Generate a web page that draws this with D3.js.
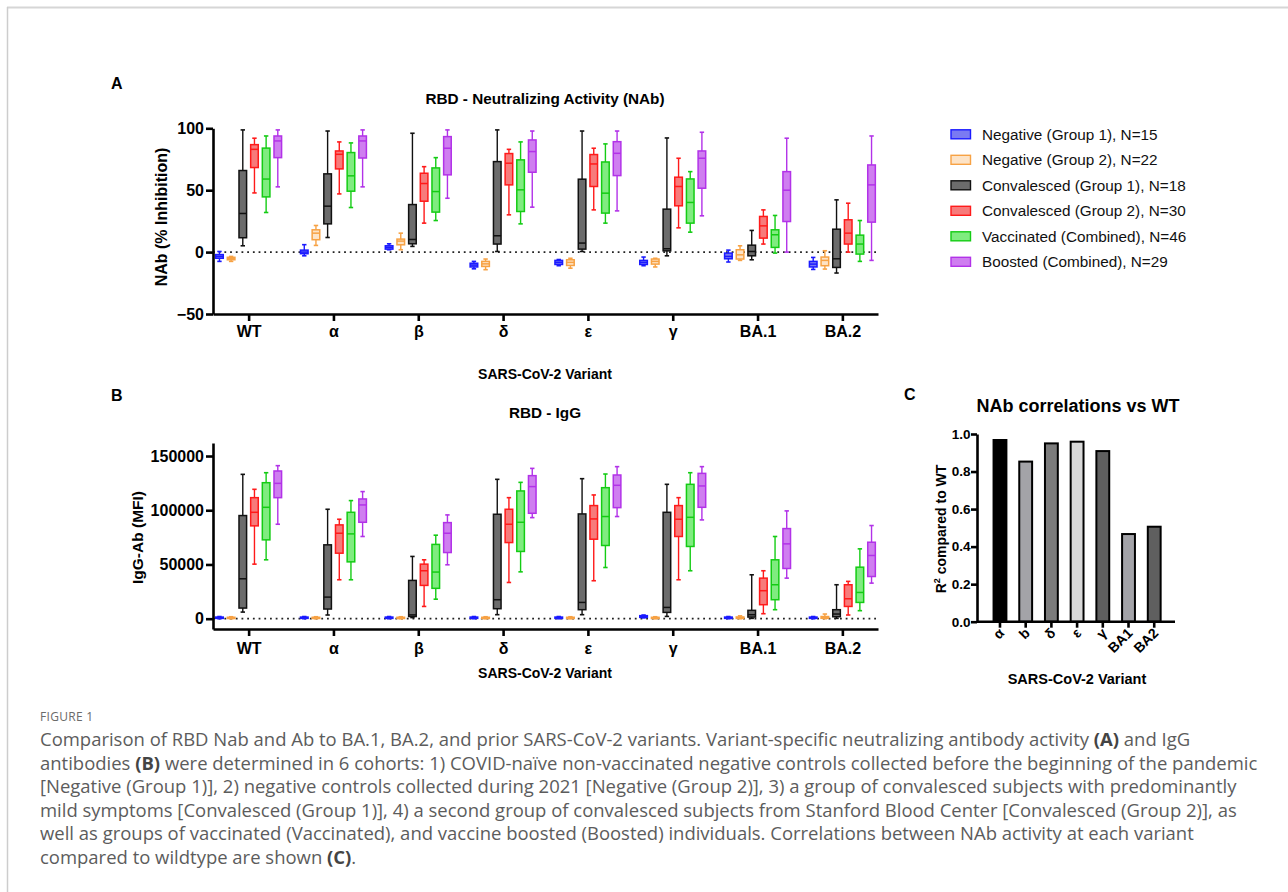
<!DOCTYPE html>
<html><head><meta charset="utf-8">
<script src="https://cdn.jsdelivr.net/npm/d3@7"></script>
<style>body{margin:0;background:#fff}svg{display:block}</style>
</head><body>
<svg id="fig" width="1288" height="892"></svg>
<script>
// ---------- DATA ----------
const variants = ["WT","α","β","δ","ε","γ","BA.1","BA.2"];
const seriesNames = ["Negative (Group 1), N=15","Negative (Group 2), N=22","Convalesced (Group 1), N=18",
  "Convalesced (Group 2), N=30","Vaccinated (Combined), N=46","Boosted (Combined), N=29"];
const nabTicks = [-50, 0, 50, 100];
const iggTicks = [0, 50000, 100000, 150000];
// NAb (% inhibition): [min, q1, median, q3, max] per variant
const nabNeg1 = [[-7.5,-5,-3.5,-2,0.5],[-3,-1.3,0,1.6,6],[1.9,2.4,3.8,5.1,6.7],[-13.5,-12,-10.5,-9,-7.5],
  [-11,-10,-8.3,-6.7,-6],[-11,-10,-8.3,-6.7,-4],[-8,-5.4,-3.5,-0.8,1.6],[-14,-12,-9.7,-7.5,-4.3]];
const nabNeg2 = [[-7.5,-6.2,-5.2,-4.2,-3.5],[5.4,10,15.3,18,21.5],[1.9,5.9,8.9,10.5,15.3],[-14.2,-11.6,-9.5,-7.5,-5.6],
  [-13,-10.8,-8.3,-6.2,-5],[-12,-9.7,-7.5,-5.6,-5],[-6.7,-5.6,-2.2,1.9,5.1],[-13.7,-11,-6.7,-4,1.1]];
const nabConv1 = [[5.1,11.6,31.2,65.9,98.7],[11.8,22.8,37.1,63.2,97.8],[4.6,6.7,10.2,38.4,96],[0.5,6.5,13.2,73.1,98.7],
  [0.5,2.4,7.3,58.9,97.8],[-3,1,2.7,34.7,92.2],[-6.2,-3,0.5,5.6,17.5],[-16.9,-12.4,-5.4,18.5,42.2]];
const nabConv2 = [[47.8,68.3,83,86.8,92],[47,67.2,79,81.7,89],[23.4,41.1,55.4,63.7,69],[30.1,54.3,71.8,79.6,83],
  [34.1,53,71.2,78.8,83.9],[19.6,37.4,53,60.5,75.8],[6.5,11.3,21.2,28.8,34.1],[0,6.5,15.3,26.1,39.5]];
const nabVacc = [[32,44.6,59,84,93.8],[36,49.2,61.6,80.4,88.2],[25.5,32.3,48.9,68,76.3],[22.8,32.8,50.3,74.5,89],
  [23.4,31.5,47.6,72.8,87.4],[16.1,23.4,40.1,59.1,65],[-0.8,3.8,14,18,29.6],[-7.5,-1.6,6.5,13.7,25.5]];
const nabBoost = [[52.7,76.3,89.8,93.8,98.7],[52.7,76,89.8,93.8,98.7],[43.5,62.4,83.9,93.3,98.7],[36.3,64.5,81.2,90.6,97.8],
  [33.3,61.8,79.8,89.2,97.8],[29.3,51.6,75.8,81.7,96.8],[0,24.7,50,65,92],[-6.7,24.2,54.3,70.4,93.8]];
// IgG-Ab (MFI): [min, q1, median, q3, max] per variant
const iggNeg1 = [[0,300,800,1500,2000],[0,300,800,1500,2000],[0,300,800,1500,2000],[0,300,800,1500,2000],
  [0,300,800,1500,2000],[800,1200,1800,2800,3400],[0,300,800,1500,2000],[0,300,800,1500,2000]];
const iggNeg2 = [[0,200,600,1300,1800],[0,200,600,1300,1800],[0,200,600,1300,1800],[0,200,600,1300,1800],
  [0,200,600,1300,1800],[0,200,600,1300,1800],[0,300,800,1600,2600],[0,400,1000,2000,4300]];
const iggConv1 = [[6100,9800,36800,95100,133100],[3400,8900,19900,68100,100900],[1000,2000,3500,35300,57400],
  [3700,9200,17500,96300,128500],[3700,8300,15000,96600,129100],[2100,5800,10400,98100,123900],
  [300,1500,3700,7700,40500],[300,1800,4300,8300,31300]];
const iggConv2 = [[50300,85600,98100,111600,119300],[35900,60400,78800,86500,91700],[11300,30700,44200,50300,54300],
  [33400,70200,87100,100900,111600],[35000,73300,92000,104300,114100],[35900,75800,91700,104300,111600],
  [4600,12900,25800,37400,44200],[3400,11300,18400,31300,34400]];
const iggVacc = [[54300,72700,102700,125400,134600],[35900,52400,78200,98100,108900],[18000,28000,43000,68500,77000],
  [43200,62000,88900,117800,125700],[47200,67500,94200,120800,133400],[44200,66600,93500,123900,134600],
  [8300,17500,31300,54300,75800],[7400,15000,24200,47500,64400]];
const iggBoost = [[87100,111600,124800,136200,141100],[75800,88900,104900,110400,117200],[49700,61000,78800,88600,95700],
  [93200,97200,121800,131900,138600],[94200,102400,123000,132500,140200],[91100,102700,122400,134000,140200],
  [37400,46300,69000,83100,99400],[32800,38900,58300,70500,85900]];
// Panel C
const corrLabels = ["α","b","δ","ε","γ","BA1","BA2"];
const corrValues = [0.968,0.853,0.950,0.959,0.909,0.467,0.506];
const corrTicks = [0,0.2,0.4,0.6,0.8,1.0];

// ---------- STYLES ----------
const strokeCols = ["#1a1aff","#f7a244","#111111","#ff1a1a","#14cc14","#b232e8"];
const fillCols   = ["#7a7af2","#fde3c6","#6c6c6c","#f77b7b","#80ec80","#cf7ef0"];
const corrFills  = ["#000000","#a3a3a8","#7c7c7c","#d9d9d9","#5f5f5f","#a3a3a8","#5f5f5f"];
const FONT = "'Liberation Sans', Arial, sans-serif";

const svg = d3.select("#fig");
svg.append("rect").attr("width",1288).attr("height",892).attr("fill","#fff");
// frame
svg.append("line").attr("x1",7).attr("x2",1288).attr("y1",7.5).attr("y2",7.5).attr("stroke","#d6d6d6").attr("stroke-width",2);
svg.append("line").attr("x1",7.5).attr("x2",7.5).attr("y1",7).attr("y2",892).attr("stroke","#cdcdcd").attr("stroke-width",1.5);

function styleAxis(g, fs){
  g.select(".domain").attr("stroke","#000").attr("stroke-width",2.6);
  g.selectAll(".tick line").attr("stroke","#000").attr("stroke-width",2.6);
  g.selectAll(".tick text").attr("fill","#000").attr("font-family",FONT).attr("font-weight","bold").attr("font-size",fs);
}

function boxPanel(opts){
  const {series, yDomain, yRange, ticks, title, titleY, ylabel, ylabelX, ylabelY, ylabelFs, xlabelY, xPad, tickFmt} = opts;
  const x = d3.scalePoint().domain(variants).range([213,878]).padding(0.42);
  const y = d3.scaleLinear().domain(yDomain).range(yRange);
  const sub = d3.scaleBand().domain(d3.range(series.length)).range([-35,35]);
  const g = svg.append("g");
  // zero dotted line
  g.append("line").attr("x1",213).attr("x2",878).attr("y1",y(0)).attr("y2",y(0))
    .attr("stroke","#222").attr("stroke-width",1.7).attr("stroke-dasharray","1.8,3.9");
  const bw = 7.6;
  series.forEach((data, si) => {
    const sg = g.append("g");
    data.forEach((s, vi) => {
      const cx = x(variants[vi]) + sub(si) + sub.bandwidth()/2;
      const [mn,q1,md,q3,mx] = s;
      sg.append("line").attr("x1",cx).attr("x2",cx).attr("y1",y(mn)).attr("y2",y(mx))
        .attr("stroke",strokeCols[si]).attr("stroke-width",1.4);
      [mn,mx].forEach(v => sg.append("line").attr("x1",cx-2.2).attr("x2",cx+2.2).attr("y1",y(v)).attr("y2",y(v))
        .attr("stroke",strokeCols[si]).attr("stroke-width",1.6));
      sg.append("rect").attr("x",cx-bw/2).attr("width",bw).attr("y",y(q3)).attr("height",Math.max(0.6,y(q1)-y(q3)))
        .attr("fill",fillCols[si]).attr("stroke",strokeCols[si]).attr("stroke-width",1.5);
      sg.append("line").attr("x1",cx-bw/2).attr("x2",cx+bw/2).attr("y1",y(md)).attr("y2",y(md))
        .attr("stroke",strokeCols[si]).attr("stroke-width",1.5);
    });
  });
  const ya = g.append("g").attr("transform","translate(213,0)")
    .call(d3.axisLeft(y).tickValues(ticks).tickSize(7).tickSizeOuter(0).tickPadding(2).tickFormat(tickFmt));
  styleAxis(ya, 16);
  const xa = g.append("g").attr("transform",`translate(0,${yRange[0]})`)
    .call(d3.axisBottom(x).tickSize(7).tickSizeOuter(0).tickPadding(xPad));
  styleAxis(xa, 16);
  const txt = (t,xx,yy,fs,anchor="middle") => g.append("text").attr("x",xx).attr("y",yy).attr("text-anchor",anchor)
    .attr("font-family",FONT).attr("font-weight","bold").attr("font-size",fs).attr("fill","#000").text(t);
  txt(title,545,titleY,15.3);
  txt("SARS-CoV-2 Variant",545,xlabelY,14);
  g.append("text").attr("transform",`translate(${ylabelX},${ylabelY}) rotate(-90)`).attr("text-anchor","middle")
    .attr("font-family",FONT).attr("font-weight","bold").attr("font-size",ylabelFs).attr("fill","#000").text(ylabel);
}

boxPanel({series:[nabNeg1,nabNeg2,nabConv1,nabConv2,nabVacc,nabBoost], yDomain:[-50,100], yRange:[314,128.3],
  ticks:nabTicks, title:"RBD - Neutralizing Activity (NAb)", titleY:104, ylabel:"NAb (% Inhibition)", ylabelX:167,
  ylabelY:217, ylabelFs:16, xlabelY:379, xPad:5, tickFmt:d3.format("d")});
boxPanel({series:[iggNeg1,iggNeg2,iggConv1,iggConv2,iggVacc,iggBoost], yDomain:[-9500,162000], yRange:[629,443],
  ticks:iggTicks, title:"RBD - IgG", titleY:418, ylabel:"IgG-Ab (MFI)", ylabelX:143,
  ylabelY:537.5, ylabelFs:15.5, xlabelY:678, xPad:7, tickFmt:d3.format("d")});

// legend
const lg = svg.append("g");
seriesNames.forEach((n,i) => {
  const yy = 134.3 + 25.5*i;
  lg.append("rect").attr("x",951).attr("y",yy-4.5).attr("width",19.5).attr("height",9)
    .attr("fill",fillCols[i]).attr("stroke",strokeCols[i]).attr("stroke-width",1.4);
  lg.append("text").attr("x",982).attr("y",yy).attr("dy","0.36em").attr("font-family",FONT)
    .attr("font-size",15.3).attr("fill","#111").text(n);
});

// panel labels
[["A",111,89],["B",111,401],["C",904,400]].forEach(([t,xx,yy]) =>
  svg.append("text").attr("x",xx).attr("y",yy).attr("font-family",FONT).attr("font-weight","bold")
    .attr("font-size",16).attr("fill","#000").text(t));

// ---------- Panel C ----------
{
  const g = svg.append("g");
  const x = d3.scaleBand().domain(corrLabels).range([980.7,1173.5]).paddingInner(0.5).paddingOuter(0.5);
  const y = d3.scaleLinear().domain([0,1]).range([621.7,434]);
  g.selectAll("rect.bar").data(corrValues).enter().append("rect")
    .attr("x",(d,i)=>x(corrLabels[i])).attr("width",x.bandwidth())
    .attr("y",d=>y(d)).attr("height",d=>y(0)-y(d))
    .attr("fill",(d,i)=>corrFills[i]).attr("stroke","#000").attr("stroke-width",2);
  const ya = g.append("g").attr("transform","translate(977,0)")
    .call(d3.axisLeft(y).tickValues(corrTicks).tickSize(6).tickSizeOuter(0).tickPadding(0.5).tickFormat(d3.format(".1f")));
  styleAxis(ya, 13.5);
  const xa = g.append("g").attr("transform","translate(0,621.7)")
    .call(d3.axisBottom(x).tickSize(6).tickSizeOuter(0).tickFormat(""));
  styleAxis(xa, 13);
  xa.select(".domain").attr("d","M977,0H1175");
  corrLabels.forEach(l => {
    const cx = x(l) + x.bandwidth()/2;
    g.append("text").attr("transform",`translate(${cx+5},${634}) rotate(-45)`).attr("text-anchor","end")
      .attr("font-family",FONT).attr("font-weight","bold").attr("font-size",14).attr("fill","#000").text(l);
  });
  g.append("text").attr("x",1078).attr("y",412).attr("text-anchor","middle").attr("font-family",FONT)
    .attr("font-weight","bold").attr("font-size",18).attr("fill","#000").text("NAb correlations vs WT");
  g.append("text").attr("x",1077).attr("y",684).attr("text-anchor","middle").attr("font-family",FONT)
    .attr("font-weight","bold").attr("font-size",14.5).attr("fill","#000").text("SARS-CoV-2 Variant");
  const yl = g.append("text").attr("transform","translate(946,529) rotate(-90)").attr("text-anchor","middle")
    .attr("font-family",FONT).attr("font-weight","bold").attr("font-size",14).attr("fill","#000");
  yl.append("tspan").text("R");
  yl.append("tspan").attr("font-size",9).attr("dy",-6).text("2");
  yl.append("tspan").attr("dy",6).text(" compared to WT");
}

// ---------- Caption ----------
const captionLines = [
  [["Comparison of RBD Nab and Ab to BA.1, BA.2, and prior SARS-CoV-2 variants. Variant-specific neutralizing antibody activity ",0],["(A)",1],[" and IgG",0]],
  [["antibodies ",0],["(B)",1],[" were determined in 6 cohorts: 1) COVID-naïve non-vaccinated negative controls collected before the beginning of the pandemic",0]],
  [["[Negative (Group 1)], 2) negative controls collected during 2021 [Negative (Group 2)], 3) a group of convalesced subjects with predominantly",0]],
  [["mild symptoms [Convalesced (Group 1)], 4) a second group of convalesced subjects from Stanford Blood Center [Convalesced (Group 2)], as",0]],
  [["well as groups of vaccinated (Vaccinated), and vaccine boosted (Boosted) individuals. Correlations between NAb activity at each variant",0]],
  [["compared to wildtype are shown ",0],["(C)",1],[".",0]]
];
svg.append("text").attr("x",40).attr("y",721).attr("font-family","'Open Sans', sans-serif").attr("font-size",12)
  .attr("fill","#6a6a6a").attr("letter-spacing",0.3).text("FIGURE 1");
const capG = svg.append("g");
const capTexts = captionLines.map((segs,i) => {
  const t = capG.append("text").attr("x",40).attr("y",746 + 23.5*i).attr("font-family","'Open Sans', sans-serif")
    .attr("font-size",16).attr("fill","#5c5c5c");
  segs.forEach(([s,b]) => t.append("tspan").attr("font-weight",b?"bold":null).attr("fill",b?"#444":null).text(s));
  return t;
});
const w2 = capTexts[1].node().getComputedTextLength();
const fs = 16 * 1218 / w2;
capTexts.forEach(t => t.attr("font-size",fs));
</script>
</body></html>
